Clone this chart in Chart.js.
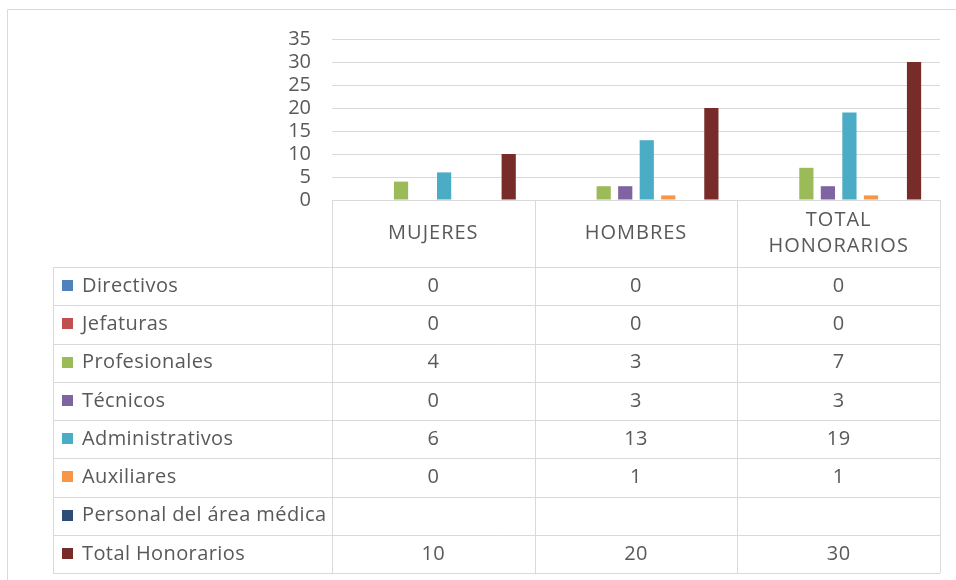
<!DOCTYPE html>
<html>
<head>
<meta charset="utf-8">
<script src="https://cdn.jsdelivr.net/npm/chart.js@4.4.1/dist/chart.umd.min.js"></script>
<style>
  html, body { margin: 0; padding: 0; background: #fff; }
  #wrap { position: relative; width: 956px; height: 580px; }
</style>
</head>
<body>
<div id="wrap"><canvas id="c" width="956" height="580"></canvas></div>
<script>
const categories = ['MUJERES', 'HOMBRES', 'TOTAL HONORARIOS'];
const categoryLines = [['MUJERES'], ['HOMBRES'], ['TOTAL', 'HONORARIOS']];
const seriesNames = ['Directivos', 'Jefaturas', 'Profesionales', 'Técnicos', 'Administrativos', 'Auxiliares', 'Personal del área médica', 'Total Honorarios'];
const directivos = [0, 0, 0];
const jefaturas = [0, 0, 0];
const profesionales = [4, 3, 7];
const tecnicos = [0, 3, 3];
const administrativos = [6, 13, 19];
const auxiliares = [0, 1, 1];
const personalMedico = [null, null, null];
const totalHonorarios = [10, 20, 30];
const seriesValues = [directivos, jefaturas, profesionales, tecnicos, administrativos, auxiliares, personalMedico, totalHonorarios];
const seriesColors = ['#4F81BD', '#C0504D', '#9BBB59', '#8064A2', '#4BACC6', '#F79646', '#2C4D75', '#772C2A'];
const yTicks = [0, 5, 10, 15, 20, 25, 30, 35];

const FONT = '"Open Sans", Lato, sans-serif';
const TEXT = '#595959';
const LINE = '#D9D9D9';

const tablePlugin = {
  id: 'dataTable',
  afterDraw(chart) {
    const ctx = chart.ctx;
    const area = chart.chartArea;
    const xs = chart.scales.x;
    const n = categories.length;
    const half = (xs.getPixelForValue(1) - xs.getPixelForValue(0)) / 2;
    const colEdges = [];
    for (let i = 0; i < n; i++) {
      const c = xs.getPixelForValue(i);
      if (i === 0) colEdges.push(c - half);
      colEdges.push(c + half);
    }
    const top = area.bottom;
    const headerH = 67;
    const rowH = 38.25;
    const labelLeft = 53;
    const rowsTop = top + headerH;
    const bottom = rowsTop + rowH * seriesNames.length;

    ctx.save();
    ctx.strokeStyle = LINE;
    ctx.lineWidth = 1;
    ctx.beginPath();
    ctx.moveTo(7.5, 580); ctx.lineTo(7.5, 9.5); ctx.lineTo(956, 9.5);
    ctx.stroke();

    ctx.beginPath();
    colEdges.forEach(x => { ctx.moveTo(Math.round(x) + 0.5, top); ctx.lineTo(Math.round(x) + 0.5, bottom); });
    ctx.moveTo(labelLeft + 0.5, rowsTop); ctx.lineTo(labelLeft + 0.5, bottom);
    for (let r = 0; r <= seriesNames.length; r++) {
      const y = Math.round(rowsTop + r * rowH) + 0.5;
      ctx.moveTo(labelLeft, y); ctx.lineTo(colEdges[n], y);
    }
    ctx.stroke();

    ctx.font = '20px ' + FONT;
    ctx.fillStyle = TEXT;
    ctx.textBaseline = 'middle';
    ctx.textAlign = 'center';
    ctx.letterSpacing = '1px';
    for (let i = 0; i < n; i++) {
      const cx = xs.getPixelForValue(i);
      const lines = categoryLines[i];
      const lh = 26;
      const startY = top + headerH / 2 - (lines.length - 1) * lh / 2;
      lines.forEach((t, k) => ctx.fillText(t, cx, startY + k * lh));
    }
    ctx.letterSpacing = '0.4px';
    seriesNames.forEach((name, r) => {
      const cy = rowsTop + r * rowH + rowH / 2;
      ctx.fillStyle = seriesColors[r];
      ctx.fillRect(62, Math.round(cy - 6), 11, 11);
      ctx.fillStyle = TEXT;
      ctx.textAlign = 'left';
      ctx.fillText(name, 82, cy);
      ctx.textAlign = 'center';
      seriesValues[r].forEach((v, i) => {
        if (v !== null && v !== undefined) ctx.fillText(String(v), xs.getPixelForValue(i), cy);
      });
    });
    ctx.restore();
  }
};

new Chart(document.getElementById('c'), {
  type: 'bar',
  data: {
    labels: categories,
    datasets: seriesNames.map((name, i) => ({
      label: name,
      data: seriesValues[i],
      backgroundColor: seriesColors[i],
      borderWidth: 0,
      categoryPercentage: 0.85,
      barPercentage: 0.66
    }))
  },
  options: {
    responsive: false,
    animation: false,
    events: [],
    layout: { padding: { top: 39, right: 16, bottom: 380, left: 0 } },
    plugins: { legend: { display: false }, tooltip: { enabled: false } },
    scales: {
      x: { display: false },
      y: {
        min: 0, max: 35,
        afterFit(scale) { scale.width = 332; },
        afterBuildTicks(scale) { scale.ticks = yTicks.map(v => ({ value: v })); },
        border: { display: false },
        grid: { color: LINE, drawTicks: false, lineWidth: 1 },
        ticks: { autoSkip: false, color: TEXT, font: { family: FONT, size: 20 }, padding: 21 }
      }
    }
  },
  plugins: [tablePlugin]
});
</script>
</body>
</html>
